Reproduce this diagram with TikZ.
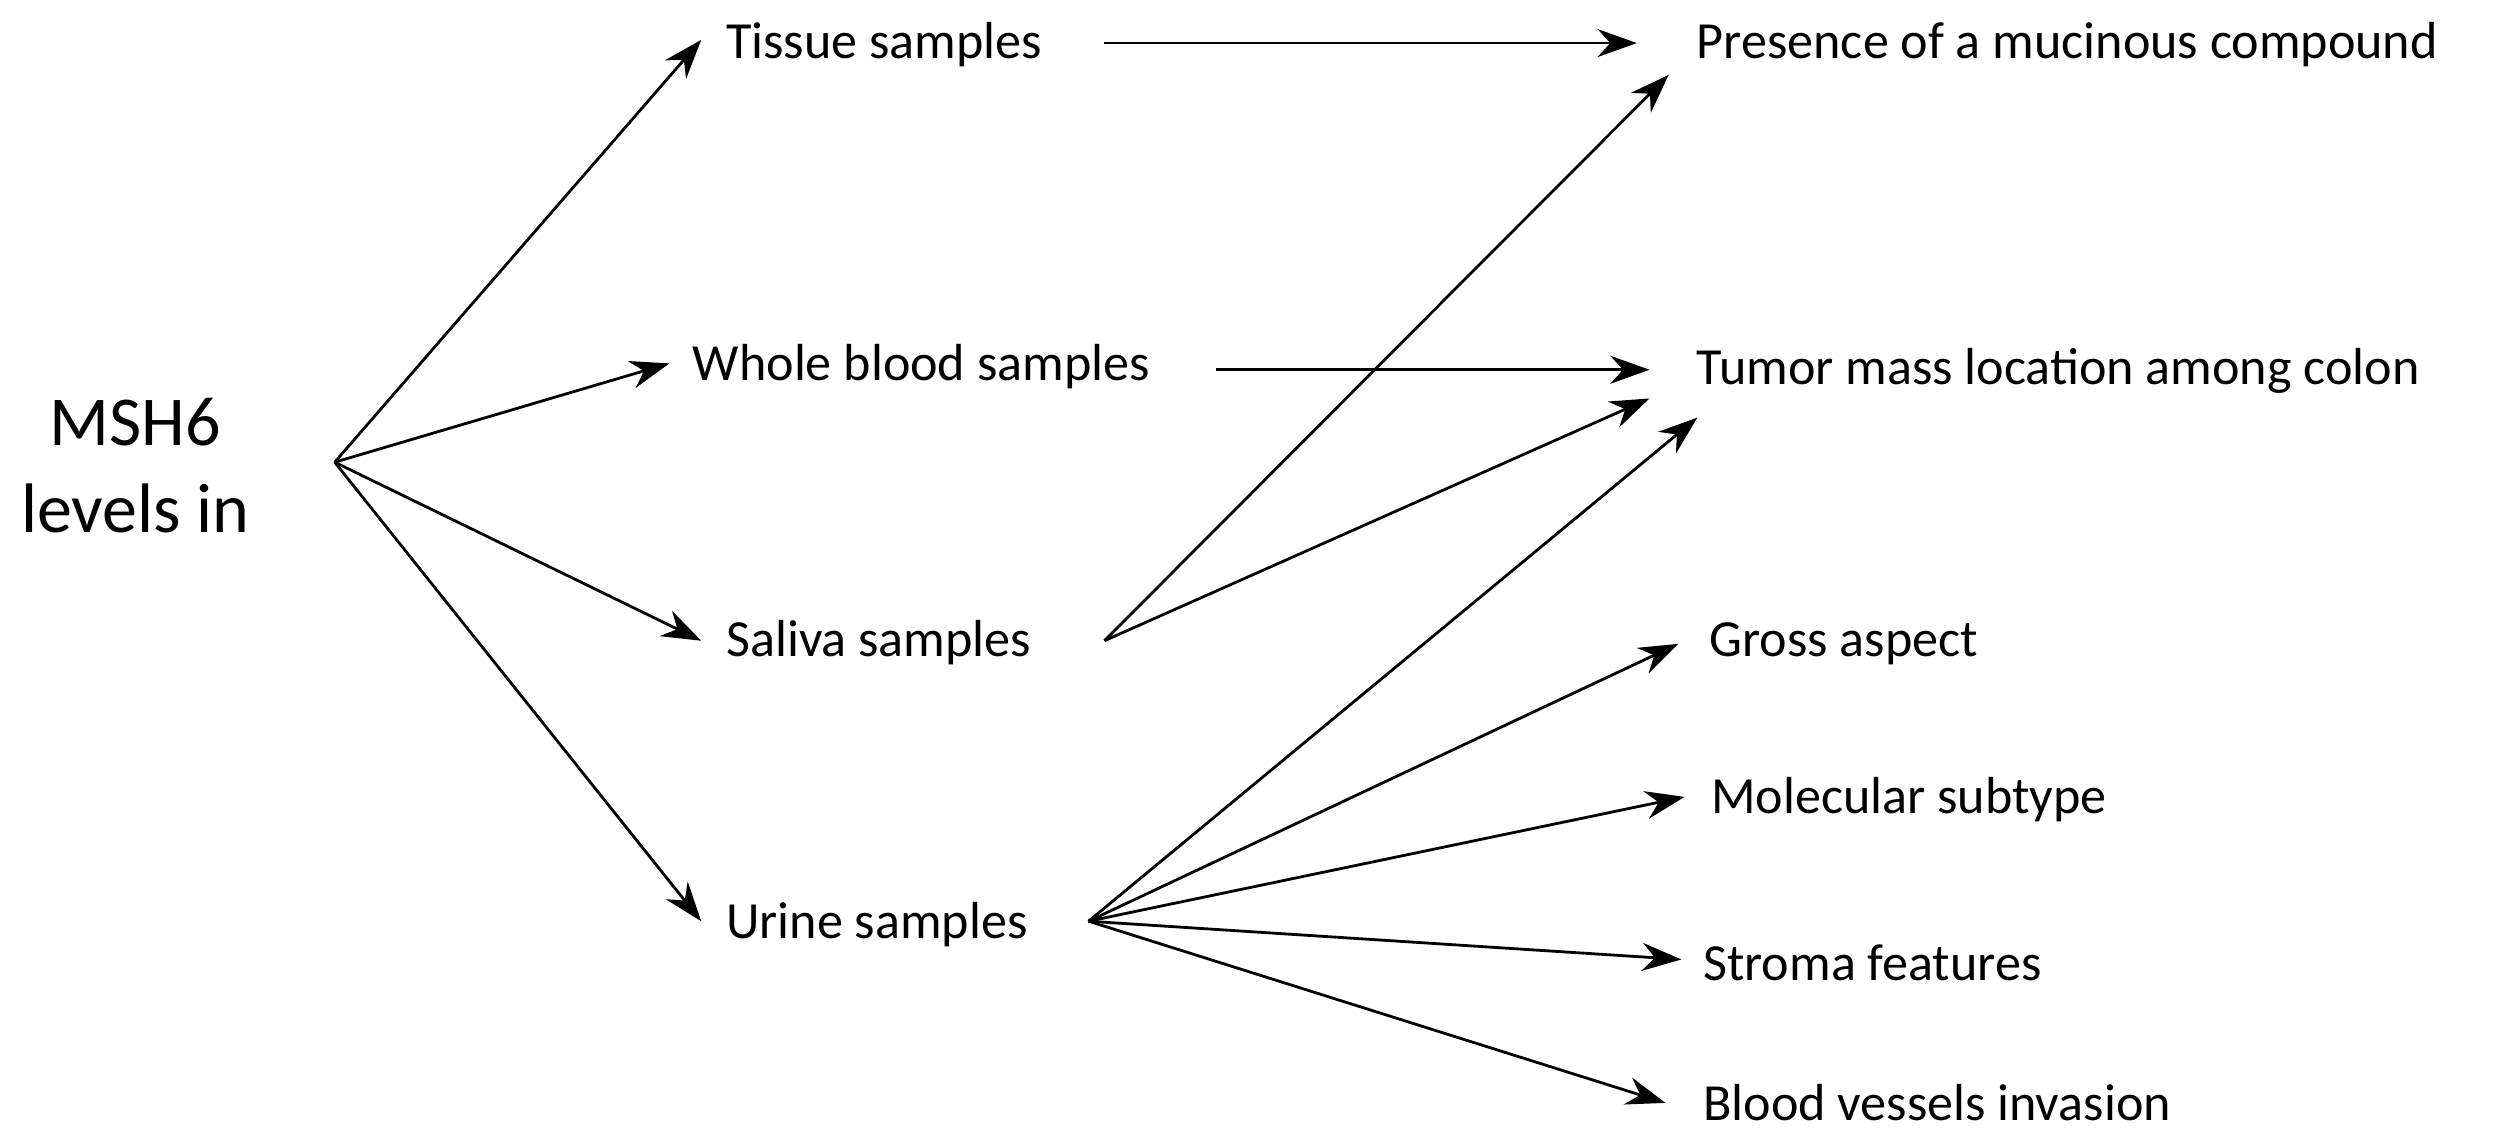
\documentclass[tikz,border=0pt]{standalone}
\usepackage{fontspec}
\setmainfont{Carlito}
\usetikzlibrary{arrows.meta}
\begin{document}
\begin{tikzpicture}[x=0.01cm,y=-0.01cm,
  lab/.style={anchor=west,inner sep=0pt,font=\fontsize{9.3}{11}\selectfont},
  arr/.style={-{Stealth[length=7pt,width=5pt]},line width=0.5pt}]
\useasboundingbox (0,0) rectangle (1568,717);
\node[align=center,font=\fontsize{12.5}{15.5}\selectfont] (m) at (85,292) {MSH6\\levels in};
\coordinate (o) at (210,290);
\node[lab] (t) at (455,28) {Tissue samples};
\node[lab] (w) at (434,230) {Whole blood samples};
\node[lab] (s) at (455,403) {Saliva samples};
\node[lab] (u) at (455,580) {Urine samples};
\node[lab] (p) at (1064,28) {Presence of a mucinous compound};
\node[lab] (tm) at (1064,233) {Tumor mass location among colon};
\node[lab] (g) at (1072,404) {Gross aspect};
\node[lab] (mo) at (1073,502) {Molecular subtype};
\node[lab] (st) at (1068,604) {Stroma features};
\node[lab] (b) at (1068,692) {Blood vessels invasion};
\coordinate (ta) at (440,25); \coordinate (wa) at (420,228);
\coordinate (sa) at (440,402); \coordinate (ua) at (440,578);
\coordinate (ts) at (693,27); \coordinate (te) at (1027,27);
\coordinate (ws) at (763,232); \coordinate (we) at (1035,232);
\coordinate (ss) at (693,402); \coordinate (pe) at (1047,47); \coordinate (tme) at (1035,250);
\coordinate (us) at (683,578); \coordinate (tme2) at (1065,262);
\coordinate (ge) at (1053,404); \coordinate (moe) at (1057,500);
\coordinate (ste) at (1055,602); \coordinate (be) at (1045,692);
\draw[arr] (o) -- (ta); \draw[arr] (o) -- (wa);
\draw[arr] (o) -- (sa); \draw[arr] (o) -- (ua);
\draw[arr] (ts) -- (te); \draw[arr] (ws) -- (we);
\draw[arr] (ss) -- (pe); \draw[arr] (ss) -- (tme);
\draw[arr] (us) -- (tme2); \draw[arr] (us) -- (ge);
\draw[arr] (us) -- (moe); \draw[arr] (us) -- (ste);
\draw[arr] (us) -- (be);
\end{tikzpicture}
\end{document}
